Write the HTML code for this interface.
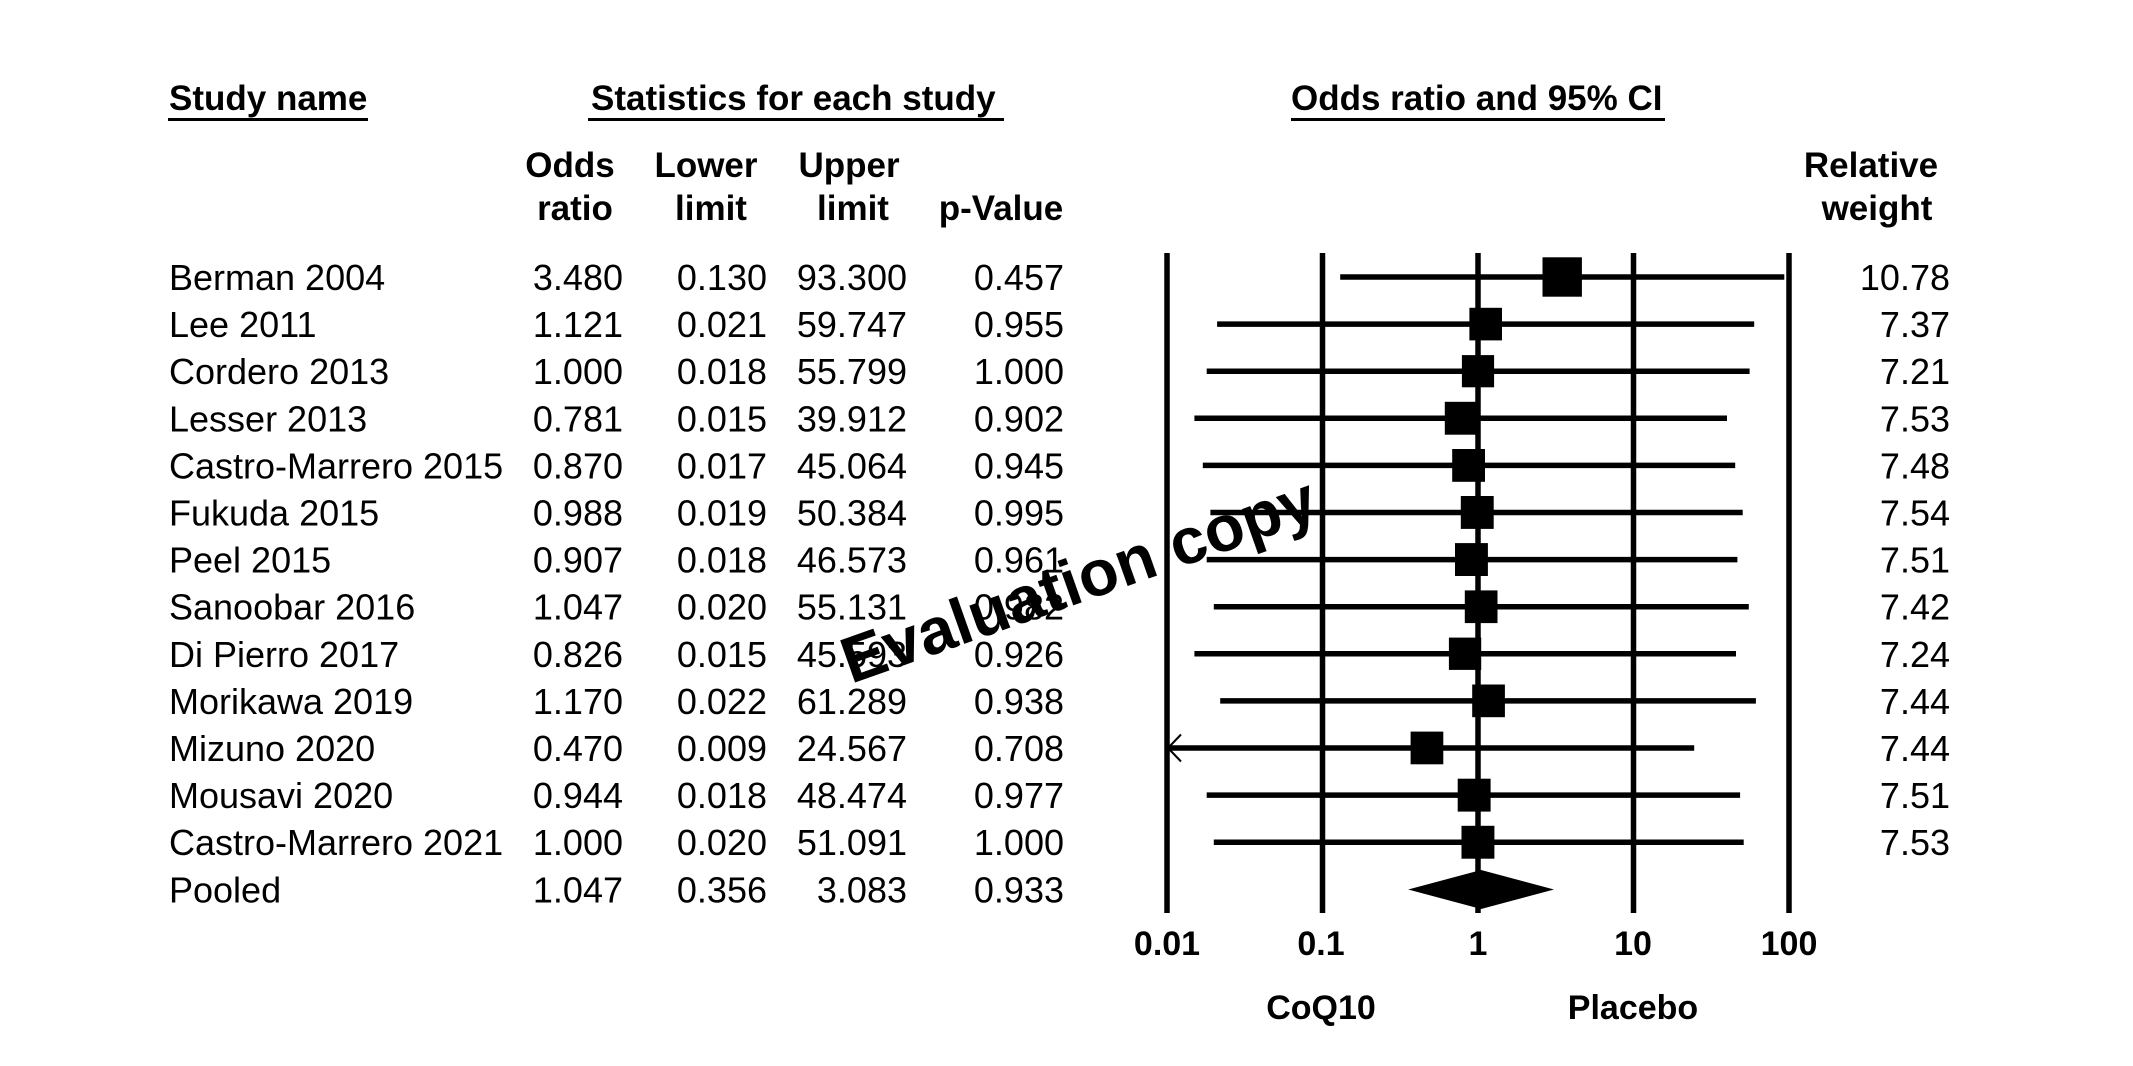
<!DOCTYPE html>
<html>
<head>
<meta charset="utf-8">
<style>
html,body{margin:0;padding:0;background:#fff;}
svg{display:block;}
text{font-family:"Liberation Sans",Arial,sans-serif;fill:#000;}
.h{font-weight:bold;font-size:35px;}
.d{font-size:36px;}
.t{font-weight:bold;font-size:34px;}
</style>
</head>
<body>
<svg width="2133" height="1066" viewBox="0 0 2133 1066" xmlns="http://www.w3.org/2000/svg">
<rect width="2133" height="1066" fill="#fff"/>

<!-- Top headers -->
<text class="h" x="169" y="110">Study name</text>
<rect x="168" y="118" width="200" height="3" fill="#000"/>
<text class="h" x="591" y="110">Statistics for each study</text>
<rect x="588" y="118" width="416" height="3" fill="#000"/>
<text class="h" x="1291" y="110">Odds ratio and 95% CI</text>
<rect x="1291" y="118" width="374" height="3" fill="#000"/>

<!-- Column headers -->
<g class="h" text-anchor="middle">
<text x="570" y="177">Odds</text>
<text x="575" y="220">ratio</text>
<text x="706" y="177">Lower</text>
<text x="711" y="220">limit</text>
<text x="849" y="177">Upper</text>
<text x="853" y="220">limit</text>
<text x="1001" y="220">p-Value</text>
<text x="1871" y="177">Relative</text>
<text x="1877" y="220">weight</text>
</g>

<!-- Study names -->
<g class="d">
<text x="169" y="290">Berman 2004</text>
<text x="169" y="337.1">Lee 2011</text>
<text x="169" y="384.2">Cordero 2013</text>
<text x="169" y="431.3">Lesser 2013</text>
<text x="169" y="478.4">Castro-Marrero 2015</text>
<text x="169" y="525.5">Fukuda 2015</text>
<text x="169" y="572.6">Peel 2015</text>
<text x="169" y="619.7">Sanoobar 2016</text>
<text x="169" y="666.8">Di Pierro 2017</text>
<text x="169" y="713.9">Morikawa 2019</text>
<text x="169" y="761">Mizuno 2020</text>
<text x="169" y="808.1">Mousavi 2020</text>
<text x="169" y="855.2">Castro-Marrero 2021</text>
<text x="169" y="902.3">Pooled</text>
</g>

<!-- Odds ratio -->
<g class="d" text-anchor="end">
<text x="623" y="290">3.480</text>
<text x="623" y="337.1">1.121</text>
<text x="623" y="384.2">1.000</text>
<text x="623" y="431.3">0.781</text>
<text x="623" y="478.4">0.870</text>
<text x="623" y="525.5">0.988</text>
<text x="623" y="572.6">0.907</text>
<text x="623" y="619.7">1.047</text>
<text x="623" y="666.8">0.826</text>
<text x="623" y="713.9">1.170</text>
<text x="623" y="761">0.470</text>
<text x="623" y="808.1">0.944</text>
<text x="623" y="855.2">1.000</text>
<text x="623" y="902.3">1.047</text>
</g>

<!-- Lower limit -->
<g class="d" text-anchor="end">
<text x="767" y="290">0.130</text>
<text x="767" y="337.1">0.021</text>
<text x="767" y="384.2">0.018</text>
<text x="767" y="431.3">0.015</text>
<text x="767" y="478.4">0.017</text>
<text x="767" y="525.5">0.019</text>
<text x="767" y="572.6">0.018</text>
<text x="767" y="619.7">0.020</text>
<text x="767" y="666.8">0.015</text>
<text x="767" y="713.9">0.022</text>
<text x="767" y="761">0.009</text>
<text x="767" y="808.1">0.018</text>
<text x="767" y="855.2">0.020</text>
<text x="767" y="902.3">0.356</text>
</g>

<!-- Upper limit -->
<g class="d" text-anchor="end">
<text x="907" y="290">93.300</text>
<text x="907" y="337.1">59.747</text>
<text x="907" y="384.2">55.799</text>
<text x="907" y="431.3">39.912</text>
<text x="907" y="478.4">45.064</text>
<text x="907" y="525.5">50.384</text>
<text x="907" y="572.6">46.573</text>
<text x="907" y="619.7">55.131</text>
<text x="907" y="666.8">45.593</text>
<text x="907" y="713.9">61.289</text>
<text x="907" y="761">24.567</text>
<text x="907" y="808.1">48.474</text>
<text x="907" y="855.2">51.091</text>
<text x="907" y="902.3">3.083</text>
</g>

<!-- p-Value -->
<g class="d" text-anchor="end">
<text x="1064" y="290">0.457</text>
<text x="1064" y="337.1">0.955</text>
<text x="1064" y="384.2">1.000</text>
<text x="1064" y="431.3">0.902</text>
<text x="1064" y="478.4">0.945</text>
<text x="1064" y="525.5">0.995</text>
<text x="1064" y="572.6">0.961</text>
<text x="1064" y="619.7">0.982</text>
<text x="1064" y="666.8">0.926</text>
<text x="1064" y="713.9">0.938</text>
<text x="1064" y="761">0.708</text>
<text x="1064" y="808.1">0.977</text>
<text x="1064" y="855.2">1.000</text>
<text x="1064" y="902.3">0.933</text>
</g>

<!-- Relative weight -->
<g class="d" text-anchor="end">
<text x="1950" y="290">10.78</text>
<text x="1950" y="337.1">7.37</text>
<text x="1950" y="384.2">7.21</text>
<text x="1950" y="431.3">7.53</text>
<text x="1950" y="478.4">7.48</text>
<text x="1950" y="525.5">7.54</text>
<text x="1950" y="572.6">7.51</text>
<text x="1950" y="619.7">7.42</text>
<text x="1950" y="666.8">7.24</text>
<text x="1950" y="713.9">7.44</text>
<text x="1950" y="761">7.44</text>
<text x="1950" y="808.1">7.51</text>
<text x="1950" y="855.2">7.53</text>
</g>

<!-- Vertical reference lines -->
<g stroke="#000" stroke-width="5.5">
<line x1="1167" y1="253" x2="1167" y2="913"/>
<line x1="1322.5" y1="253" x2="1322.5" y2="913"/>
<line x1="1478" y1="253" x2="1478" y2="913"/>
<line x1="1633.5" y1="253" x2="1633.5" y2="913"/>
<line x1="1789" y1="253" x2="1789" y2="913"/>
</g>

<!-- CI lines -->
<g stroke="#000" stroke-width="5.5">
<line x1="1340.2" y1="277" x2="1784.3" y2="277"/>
<line x1="1217.1" y1="324.1" x2="1754.2" y2="324.1"/>
<line x1="1206.7" y1="371.2" x2="1749.6" y2="371.2"/>
<line x1="1194.4" y1="418.3" x2="1727.0" y2="418.3"/>
<line x1="1202.8" y1="465.4" x2="1735.2" y2="465.4"/>
<line x1="1210.4" y1="512.5" x2="1742.7" y2="512.5"/>
<line x1="1206.7" y1="559.6" x2="1737.4" y2="559.6"/>
<line x1="1213.8" y1="606.7" x2="1748.8" y2="606.7"/>
<line x1="1194.4" y1="653.8" x2="1736.0" y2="653.8"/>
<line x1="1220.2" y1="700.9" x2="1755.9" y2="700.9"/>
<line x1="1167" y1="748" x2="1694.2" y2="748"/>
<line x1="1206.7" y1="795.1" x2="1740.1" y2="795.1"/>
<line x1="1213.8" y1="842.2" x2="1743.7" y2="842.2"/>
</g>
<!-- arrow for Mizuno -->
<polyline points="1181,734.5 1168,748 1181,761.5" fill="none" stroke="#000" stroke-width="2"/>

<!-- Squares -->
<g fill="#000">
<rect x="1542.5" y="257.3" width="39.4" height="39.4"/>
<rect x="1469.4" y="307.8" width="32.6" height="32.6"/>
<rect x="1461.9" y="355.1" width="32.2" height="32.2"/>
<rect x="1444.8" y="401.8" width="32.9" height="32.9"/>
<rect x="1452.2" y="449.0" width="32.8" height="32.8"/>
<rect x="1460.8" y="496.0" width="32.9" height="32.9"/>
<rect x="1455.0" y="543.1" width="32.9" height="32.9"/>
<rect x="1464.8" y="590.4" width="32.7" height="32.7"/>
<rect x="1448.9" y="637.6" width="32.3" height="32.3"/>
<rect x="1472.2" y="684.5" width="32.7" height="32.7"/>
<rect x="1410.6" y="731.6" width="32.7" height="32.7"/>
<rect x="1457.7" y="778.7" width="32.9" height="32.9"/>
<rect x="1461.5" y="825.8" width="32.9" height="32.9"/>
</g>

<!-- Pooled diamond -->
<polygon points="1408.2,889.5 1481.1,870 1554.0,889.5 1481.1,909" fill="#000"/>

<!-- Axis tick labels -->
<g class="t" text-anchor="middle">
<text x="1167" y="955">0.01</text>
<text x="1321" y="955">0.1</text>
<text x="1478" y="955">1</text>
<text x="1633" y="955">10</text>
<text x="1789" y="955">100</text>
<text x="1321" y="1019">CoQ10</text>
<text x="1633" y="1019">Placebo</text>
</g>

<!-- Watermark -->
<text x="851" y="684" transform="rotate(-19.5 851 684)" style="font-weight:bold;font-size:65px;">Evaluation copy</text>
</svg>
</body>
</html>
